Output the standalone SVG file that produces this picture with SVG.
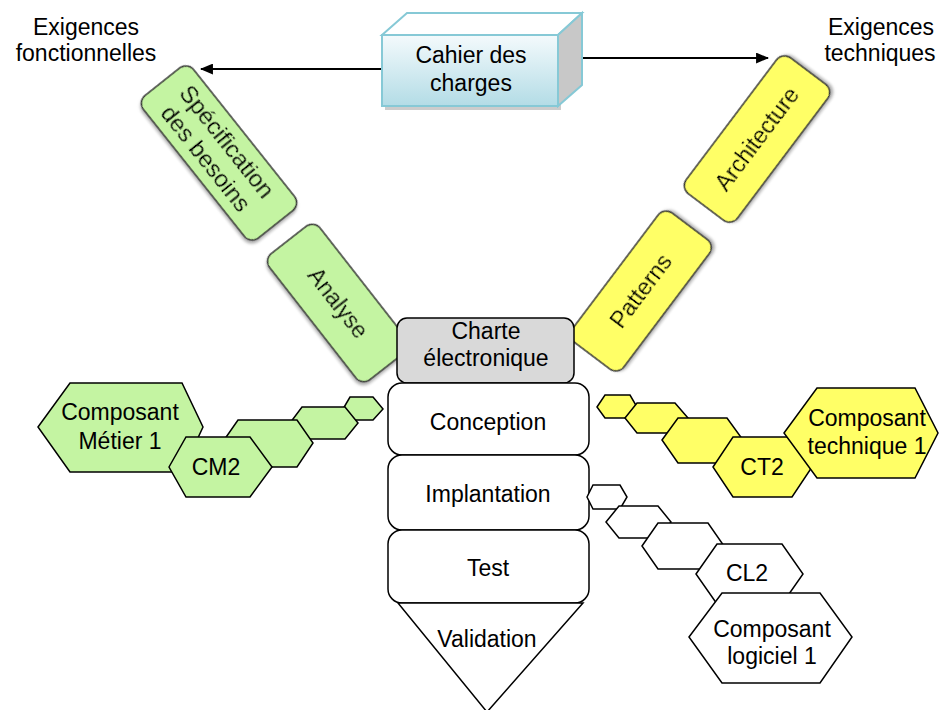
<svg xmlns="http://www.w3.org/2000/svg" width="940" height="710" viewBox="0 0 940 710">
<defs>
<style>
text{font-family:"Liberation Sans",Arial,sans-serif;font-size:23px;fill:#000;text-anchor:middle}
.hg{fill:#c4f4a2;stroke:#000;stroke-width:1.5}
.hy{fill:#ffff66;stroke:#000;stroke-width:1.5}
.hw{fill:#fff;stroke:#000;stroke-width:1.5}
.rg{fill:#c4f4a2;stroke:#333;stroke-width:1.5}
.ry{fill:#ffff66;stroke:#333;stroke-width:1.5}
.box{fill:#fff;stroke:#000;stroke-width:1.5}
.conn{stroke:#000;stroke-width:2;fill:none}
</style>
<linearGradient id="front" x1="0" y1="0" x2="0" y2="1">
<stop offset="0" stop-color="#f4fafc"/>
<stop offset="1" stop-color="#b3dce6"/>
</linearGradient>
<filter id="sh" x="-20%" y="-20%" width="140%" height="140%">
<feDropShadow dx="2" dy="2" stdDeviation="1.5" flood-color="#777" flood-opacity="0.6"/>
</filter>
<marker id="arr" viewBox="0 0 12 10" refX="11" refY="5" markerWidth="13" markerHeight="11" markerUnits="userSpaceOnUse" orient="auto">
<path d="M0,0 L12,5 L0,10 Z" fill="#000"/>
</marker>
</defs>
<rect width="940" height="710" fill="#fff"/>

<g id="labels">
<text x="86" y="35">Exigences</text>
<text x="86" y="61">fonctionnelles</text>
<text x="881" y="35">Exigences</text>
<text x="880" y="61">techniques</text>
</g>

<g id="connectors">
<line class="conn" x1="383" y1="69" x2="201" y2="69" marker-end="url(#arr)"/>
<line class="conn" x1="582" y1="58" x2="768" y2="58" marker-end="url(#arr)"/>
</g>

<g id="cahier">
<rect x="385" y="39" width="176" height="71" fill="#999" opacity="0.5"/>
<polygon points="382,35 407,13 582,13 558,35" fill="#fff" stroke="#86c9d6" stroke-width="2"/>
<polygon points="558,35 582,13 582,85 558,106" fill="#c8c8c8" stroke="#86c9d6" stroke-width="2"/>
<rect x="382" y="35" width="176" height="71" fill="url(#front)" stroke="#86c9d6" stroke-width="2"/>
<text x="471" y="63">Cahier des</text>
<text x="471" y="91">charges</text>
</g>

<g id="specification" transform="translate(219,153) rotate(51.5)" filter="url(#sh)">
<rect class="rg" x="-91" y="-32" width="182" height="64" rx="10"/>
<text x="-4" y="-5" style="font-size:24px">Spécification</text>
<text x="-4" y="22" style="font-size:24px">des besoins</text>
</g>

<g id="analyse" transform="translate(338,303) rotate(52)" filter="url(#sh)">
<rect class="rg" x="-80" y="-32" width="160" height="64" rx="10"/>
<text x="0" y="8">Analyse</text>
</g>

<g id="architecture" transform="translate(757,139) rotate(-53)" filter="url(#sh)">
<rect class="ry" x="-85" y="-32" width="170" height="64" rx="10"/>
<text x="0" y="8">Architecture</text>
</g>

<g id="patterns" transform="translate(641,291) rotate(-53)" filter="url(#sh)">
<rect class="ry" x="-81" y="-32" width="162" height="64" rx="10"/>
<text x="0" y="8">Patterns</text>
</g>

<g id="charte">
<rect x="397" y="318" width="177" height="65" rx="10" fill="#d9d9d9" stroke="#000" stroke-width="1.5"/>
<text x="486" y="339">Charte</text>
<text x="486" y="366">électronique</text>
</g>

<g id="conception">
<rect class="box" x="388" y="383" width="201" height="72" rx="14"/>
<text x="488" y="430">Conception</text>
</g>

<g id="implantation">
<rect class="box" x="388" y="455" width="201" height="75" rx="14"/>
<text x="488" y="502">Implantation</text>
</g>

<g id="test">
<rect class="box" x="388" y="530" width="201" height="73" rx="14"/>
<text x="488" y="576">Test</text>
</g>

<g id="validation">
<polygon class="box" points="398,603 583,603 487,712"/>
<text x="487" y="647">Validation</text>
</g>

<g id="metier">
<polygon id="cm5" class="hg" points="343,409 350,397 373,397 383,409 373,420 350,420"/>
<polygon id="cm4" class="hg" points="290,423 302,407 345,407 358,423 345,439 302,439"/>
<polygon id="cm3" class="hg" points="222,443 238,420 297,420 313,443 297,467 238,467"/>
<g id="cm1">
<polygon class="hg" points="38,427 70,383 182,383 203,427 182,472 70,472"/>
<text x="120" y="420">Composant</text>
<text x="120" y="449">Métier 1</text>
</g>
<g id="cm2">
<polygon class="hg" points="169,467 186,437 250,437 272,467 250,497 186,497"/>
<text x="216" y="475">CM2</text>
</g>
</g>

<g id="technique">
<polygon id="ct5" class="hy" points="597,407 605,395 630,395 637,407 630,418 605,418"/>
<polygon id="ct4" class="hy" points="625,418 637,403 675,403 688,418 675,433 637,433"/>
<polygon id="ct3" class="hy" points="662,440 678,418 727,418 743,440 727,463 678,463"/>
<g id="ct2">
<polygon class="hy" points="713,467 733,437 792,437 812,467 792,497 733,497"/>
<text x="762" y="475">CT2</text>
</g>
<g id="ct1">
<polygon class="hy" points="784,433 817,388 915,388 938,433 915,478 817,478"/>
<text x="867" y="426">Composant</text>
<text x="867" y="454">technique 1</text>
</g>
</g>

<g id="logiciel">
<polygon id="cl5" class="hw" points="587,497 593,485 620,485 627,497 620,509 593,509"/>
<polygon id="cl4" class="hw" points="606,522 619,506 658,506 671,522 658,538 619,538"/>
<polygon id="cl3" class="hw" points="642,546 658,523 708,523 724,546 708,569 658,569"/>
<g id="cl2">
<polygon class="hw" points="696,574 717,544 782,544 803,574 782,604 717,604"/>
<text x="747" y="581">CL2</text>
</g>
<g id="cl1">
<polygon class="hw" points="689,637 722,593 820,593 852,637 820,683 722,683"/>
<text x="772" y="637">Composant</text>
<text x="772" y="664">logiciel 1</text>
</g>
</g>
</svg>
